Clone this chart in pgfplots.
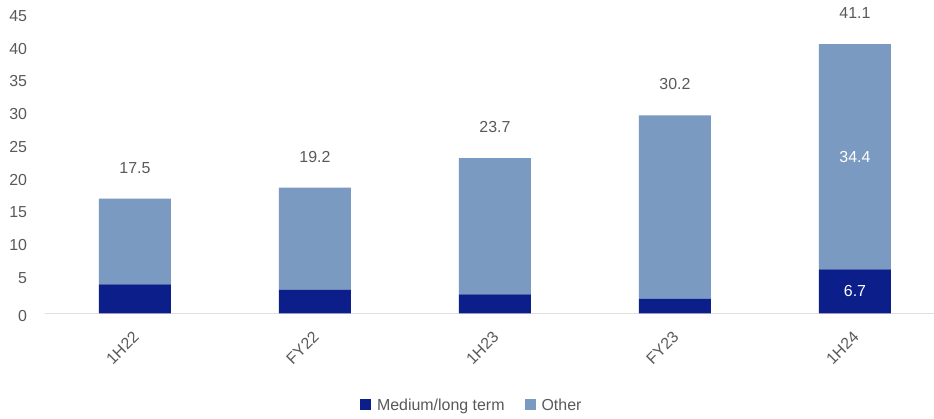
\documentclass[border=0pt]{standalone}
\usepackage{pgfplots}
\pgfplotsset{compat=1.18}
\usepackage{fontspec}
\setmainfont{Liberation Sans}
\definecolor{navy}{HTML}{0C1E8A}
\definecolor{steel}{HTML}{7A9AC2}
\definecolor{txt}{HTML}{595959}
\begin{document}
\begin{tikzpicture}
\useasboundingbox (0,0) rectangle (934bp,419bp);
\begin{axis}[
 at={(45bp,105.7bp)}, anchor=south west,
 width=889bp, height=294.8bp, scale only axis,
 ybar stacked, bar width=72bp,
 xmin=-0.5, xmax=4.439, ymin=0, ymax=45,
 ytick={5,10,...,45},
 extra y ticks={0},
 extra y tick style={yticklabel style={yshift=-5.5bp}},
 xtick={0,...,4}, xticklabels={1H22,FY22,1H23,FY23,1H24},
 axis x line*=bottom, axis y line*=left,
 x axis line style={-, draw=black!12, line width=1.5bp},
 y axis line style={draw=none},
 major tick length=0pt,
 tick label style={font=\fontsize{16}{19}\selectfont, text=txt},
 /pgf/number format/assume math mode=true,
 yticklabel style={anchor=east, inner sep=0pt, xshift=-17.7bp, yshift=2.5bp},
 xticklabel style={inner sep=0pt, xshift=1bp, yshift=-21bp, rotate=45, anchor=east},
 clip=false,
 legend style={at={(axis description cs:0.480,-0.311)}, anchor=center, draw=none,
   legend columns=2, font=\fontsize{16}{19}\selectfont, text=txt,
   /tikz/every odd column/.append style={column sep=4bp},
   /tikz/every even column/.append style={column sep=18bp}},
 legend image code/.code={\draw[#1,draw=none] (0bp,-5.5bp) rectangle (11bp,5.5bp);},
]
\addplot[fill=navy, draw=none] coordinates {(0,4.4) (1,3.6) (2,2.9) (3,2.2) (4,6.7)};
\addlegendentry{Medium/long term}
\addplot[fill=steel, draw=none] coordinates {(0,13.1) (1,15.6) (2,20.8) (3,28.0) (4,34.4)};
\addlegendentry{Other}
\node[text=txt, font=\fontsize{16}{19}\selectfont, yshift=31bp] at (axis cs:0,17.5) {17.5};
\node[text=txt, font=\fontsize{16}{19}\selectfont, yshift=31bp] at (axis cs:1,19.2) {19.2};
\node[text=txt, font=\fontsize{16}{19}\selectfont, yshift=31bp] at (axis cs:2,23.7) {23.7};
\node[text=txt, font=\fontsize{16}{19}\selectfont, yshift=31bp] at (axis cs:3,30.2) {30.2};
\node[text=txt, font=\fontsize{16}{19}\selectfont, yshift=31bp] at (axis cs:4,41.1) {41.1};
\coordinate (o) at (axis cs:4,23.9);
\coordinate (m) at (axis cs:4,3.35);
\end{axis}
\node[text=white, font=\fontsize{16}{19}\selectfont] at (o) {34.4};
\node[text=white, font=\fontsize{16}{19}\selectfont] at (m) {6.7};
\end{tikzpicture}
\end{document}
